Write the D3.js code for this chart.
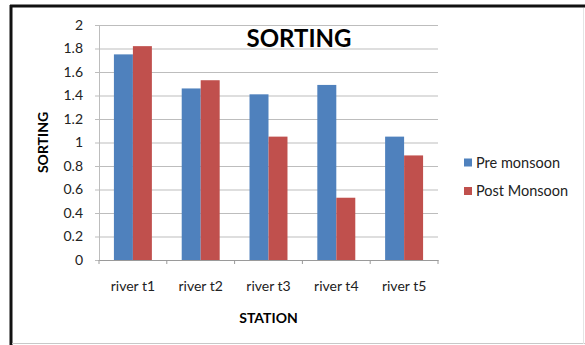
<!DOCTYPE html>
<html><head><meta charset="utf-8">
<script src="https://cdn.jsdelivr.net/npm/d3@7"></script>
<style>html,body{margin:0;padding:0;background:#fff;}svg{display:block;}</style>
</head><body>
<svg id="c" width="585" height="345"></svg>
<script>
const categories = ["river t1", "river t2", "river t3", "river t4", "river t5"];
const preMonsoon = [1.75, 1.46, 1.41, 1.49, 1.05];
const postMonsoon = [1.82, 1.53, 1.05, 0.53, 0.89];
const seriesNames = ["Pre monsoon", "Post Monsoon"];
const seriesColors = ["#4f81bd", "#c0504d"];
const yTicks = [0, 0.2, 0.4, 0.6, 0.8, 1, 1.2, 1.4, 1.6, 1.8, 2];

const font = "Lato, 'Open Sans', sans-serif";
const svg = d3.select("#c");

// frame
svg.append("rect").attr("x", 0).attr("y", 0).attr("width", 585).attr("height", 345).attr("fill", "#fff");
svg.append("line").attr("x1", 11).attr("x2", 11).attr("y1", 5).attr("y2", 345).attr("stroke", "#111").attr("stroke-width", 3);
svg.append("line").attr("x1", 10).attr("x2", 585).attr("y1", 6).attr("y2", 6).attr("stroke", "#111").attr("stroke-width", 3);
svg.append("line").attr("x1", 12).attr("x2", 585).attr("y1", 343.5).attr("y2", 343.5).attr("stroke", "#c8c8c8").attr("stroke-width", 1);
svg.append("line").attr("x1", 583.5).attr("x2", 583.5).attr("y1", 8).attr("y2", 344).attr("stroke", "#e4e4e4").attr("stroke-width", 1);

const x0 = d3.scaleBand().domain(categories).range([99, 438]).paddingInner(0).paddingOuter(0);
const groupW = x0.bandwidth() * 0.56;
const x1 = d3.scaleBand().domain(seriesNames).range([0, groupW]);
const y = d3.scaleLinear().domain([0, 2]).range([260, 25]);

// gridlines
const yAxis = d3.axisLeft(y).tickValues(yTicks).tickSize(-(438 - 99)).tickPadding(16)
  .tickFormat(d => d3.format("~g")(d));
const gy = svg.append("g").attr("transform", "translate(99,0)").call(yAxis);
gy.select(".domain").attr("stroke", "#bdbdbd");
gy.selectAll(".tick line").attr("stroke", "#bdbdbd").attr("x1", -4);
gy.selectAll(".tick text").attr("font-family", font).attr("font-size", 14).attr("fill", "#222");

// bars
const data = categories.map((c, i) => ({ c, vals: [preMonsoon[i], postMonsoon[i]] }));
const groups = svg.append("g").selectAll("g").data(data).join("g")
  .attr("transform", d => `translate(${x0(d.c) + (x0.bandwidth() - groupW) / 2},0)`);
groups.selectAll("rect").data(d => d.vals.map((v, j) => ({ v, s: seriesNames[j], j })))
  .join("rect")
  .attr("x", d => x1(d.s))
  .attr("width", x1.bandwidth())
  .attr("y", d => y(d.v))
  .attr("height", d => y(0) - y(d.v))
  .attr("fill", d => seriesColors[d.j]);

// x axis
const xAxis = d3.axisBottom(x0).tickSize(0).tickPadding(21);
const gx = svg.append("g").attr("transform", "translate(0,260)").call(xAxis);
gx.select(".domain").attr("stroke", "#9a9a9a");
gx.selectAll(".tick text").attr("font-family", font).attr("font-size", 14).attr("fill", "#222");
const bounds = categories.map(c => x0(c)).concat([x0.range()[1]]);
gx.selectAll(".bound").data(bounds).join("line").attr("class", "bound")
  .attr("x1", d => d).attr("x2", d => d).attr("y1", 0).attr("y2", 4).attr("stroke", "#9a9a9a");

// titles
svg.append("text").attr("x", 299).attr("y", 47).attr("text-anchor", "middle")
  .attr("font-family", font).attr("font-weight", "bold").attr("font-size", 24).attr("fill", "#000").text("SORTING");
svg.append("text").attr("x", 268.5).attr("y", 323).attr("text-anchor", "middle")
  .attr("font-family", font).attr("font-weight", "bold").attr("font-size", 14).attr("fill", "#000").text("STATION");
svg.append("text").attr("transform", "translate(48,142.5) rotate(-90)").attr("text-anchor", "middle")
  .attr("font-family", font).attr("font-weight", "bold").attr("font-size", 14).attr("fill", "#000").text("SORTING");

// legend
const leg = svg.append("g").selectAll("g").data(seriesNames).join("g")
  .attr("transform", (d, i) => `translate(464,${162.5 + i * 28.5})`);
leg.append("rect").attr("x", 0).attr("y", -4).attr("width", 8).attr("height", 8).attr("fill", (d, i) => seriesColors[i]);
leg.append("text").attr("x", 12).attr("y", 0).attr("dy", "0.35em")
  .attr("font-family", font).attr("font-size", 14.5).attr("fill", "#222").text(d => d);
</script>
</body></html>
